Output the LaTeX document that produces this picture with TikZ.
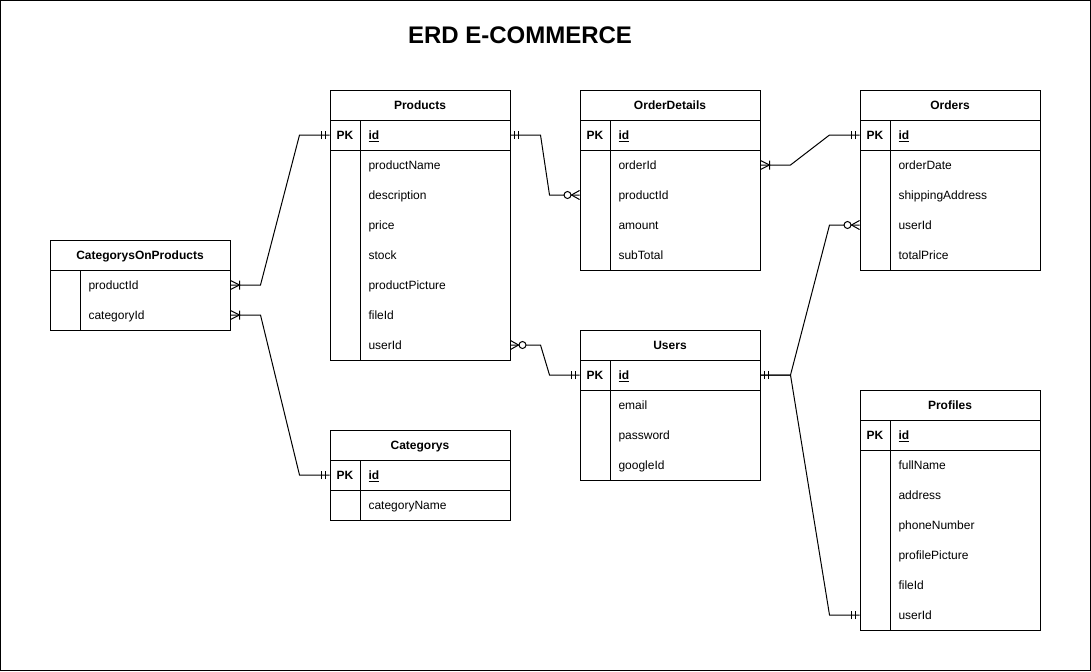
\documentclass[tikz,border=0pt]{standalone}
\usepackage{fontspec}
\setmainfont{Liberation Sans}
\usetikzlibrary{calc}
\newcommand{\fld}[4]{\node[frow] (#1) at ({#2+90},#3) {}; \node[ftext] (#1-t) at ({#2+38},#3) {#4};}
\newcommand{\idfld}[3]{\node[frow] (#1) at ({#2+90},#3) {}; \node[ftext,font=\fontsize{9}{11}\selectfont\bfseries] (#1-t) at ({#2+38},#3) {\underline{id}}; \node[pk] (#1-pk) at ({#2+15},#3) {PK};}
\begin{document}
\begin{tikzpicture}[x=0.75pt,y=-0.75pt, line width=0.75pt,
  font=\fontsize{9}{11}\selectfont,
  hdr/.style={draw, minimum width=135pt, minimum height=22.5pt, inner sep=0, text height=1.5ex, text depth=.3ex, font=\fontsize{9}{11}\selectfont\bfseries},
  frow/.style={minimum width=135pt, minimum height=22.5pt, inner sep=0},
  ftext/.style={anchor=west, inner sep=0, text height=1.5ex, text depth=.3ex},
  pk/.style={inner sep=0, text height=1.5ex, text depth=.3ex, font=\fontsize{9}{11}\selectfont\bfseries},
  mandone/.pic={\draw (4,-4)--(4,4) (8,-4)--(8,4);},
  onemany/.pic={\draw (0,-4.5)--(9,0)--(0,4.5) (9,-4.5)--(9,4.5);},
  zeromany/.pic={\draw (0,-4.5)--(8,0)--(0,4.5); \draw[fill=white] (12,0) circle[radius=3.5];},
  ]
\useasboundingbox (0,0) rectangle (1091,671);
\draw (0.5,0.5) rectangle (1090.5,670.5);
\node[font=\fontsize{18}{22}\selectfont\bfseries] (title) at (520,35) {ERD E-COMMERCE};

% Products
\node[hdr] (prod) at (420,105) {Products};
\draw (330,120) rectangle (510,360);
\draw (330,150) -- (510,150);
\draw (360,120) -- (360,360);
\idfld{prod-id}{330}{135}
\fld{prod-name}{330}{165}{productName}
\fld{prod-desc}{330}{195}{description}
\fld{prod-price}{330}{225}{price}
\fld{prod-stock}{330}{255}{stock}
\fld{prod-pic}{330}{285}{productPicture}
\fld{prod-fid}{330}{315}{fileId}
\fld{prod-uid}{330}{345}{userId}

% CategorysOnProducts
\node[hdr] (cop) at (140,255) {CategorysOnProducts};
\draw (50,270) rectangle (230,330);
\draw (80,270) -- (80,330);
\fld{cop-pid}{50}{285}{productId}
\fld{cop-cid}{50}{315}{categoryId}

% Categorys
\node[hdr] (cat) at (420,445) {Categorys};
\draw (330,460) rectangle (510,520);
\draw (330,490) -- (510,490);
\draw (360,460) -- (360,520);
\idfld{cat-id}{330}{475}
\fld{cat-name}{330}{505}{categoryName}

% OrderDetails
\node[hdr] (od) at (670,105) {OrderDetails};
\draw (580,120) rectangle (760,270);
\draw (580,150) -- (760,150);
\draw (610,120) -- (610,270);
\idfld{od-id}{580}{135}
\fld{od-oid}{580}{165}{orderId}
\fld{od-pid}{580}{195}{productId}
\fld{od-amt}{580}{225}{amount}
\fld{od-sub}{580}{255}{subTotal}

% Orders
\node[hdr] (ord) at (950,105) {Orders};
\draw (860,120) rectangle (1040,270);
\draw (860,150) -- (1040,150);
\draw (890,120) -- (890,270);
\idfld{ord-id}{860}{135}
\fld{ord-date}{860}{165}{orderDate}
\fld{ord-addr}{860}{195}{shippingAddress}
\fld{ord-uid}{860}{225}{userId}
\fld{ord-tot}{860}{255}{totalPrice}

% Users
\node[hdr] (usr) at (670,345) {Users};
\draw (580,360) rectangle (760,480);
\draw (580,390) -- (760,390);
\draw (610,360) -- (610,480);
\idfld{usr-id}{580}{375}
\fld{usr-email}{580}{405}{email}
\fld{usr-pw}{580}{435}{password}
\fld{usr-gid}{580}{465}{googleId}

% Profiles
\node[hdr] (prof) at (950,405) {Profiles};
\draw (860,420) rectangle (1040,630);
\draw (860,450) -- (1040,450);
\draw (890,420) -- (890,630);
\idfld{prof-id}{860}{435}
\fld{prof-name}{860}{465}{fullName}
\fld{prof-addr}{860}{495}{address}
\fld{prof-phone}{860}{525}{phoneNumber}
\fld{prof-pic}{860}{555}{profilePicture}
\fld{prof-fid}{860}{585}{fileId}
\fld{prof-uid}{860}{615}{userId}

% Connectors
\draw (cop-pid.east) -- ++(30,0) -- ($(prod-id.west)+(-30,0)$) -- (prod-id.west);
\pic at (cop-pid.east) {onemany};
\pic[rotate=180] at (prod-id.west) {mandone};

\draw (cop-cid.east) -- ++(30,0) -- ($(cat-id.west)+(-30,0)$) -- (cat-id.west);
\pic at (cop-cid.east) {onemany};
\pic[rotate=180] at (cat-id.west) {mandone};

\draw (prod-id.east) -- ++(30,0) -- ($(od-pid.west)+(-30,0)$) -- (od-pid.west);
\pic at (prod-id.east) {mandone};
\pic[rotate=180] at (od-pid.west) {zeromany};

\draw (od-oid.east) -- ++(30,0) -- ($(ord-id.west)+(-30,0)$) -- (ord-id.west);
\pic at (od-oid.east) {onemany};
\pic[rotate=180] at (ord-id.west) {mandone};

\draw (prod-uid.east) -- ++(30,0) -- ($(usr-id.west)+(-30,0)$) -- (usr-id.west);
\pic at (prod-uid.east) {zeromany};
\pic[rotate=180] at (usr-id.west) {mandone};

\draw (usr-id.east) -- ++(30,0) -- ($(ord-uid.west)+(-30,0)$) -- (ord-uid.west);
\pic at (usr-id.east) {mandone};
\pic[rotate=180] at (ord-uid.west) {zeromany};

\draw (usr-id.east) -- ++(30,0) -- ($(prof-uid.west)+(-30,0)$) -- (prof-uid.west);
\pic[rotate=180] at (prof-uid.west) {mandone};
\end{tikzpicture}
\end{document}
